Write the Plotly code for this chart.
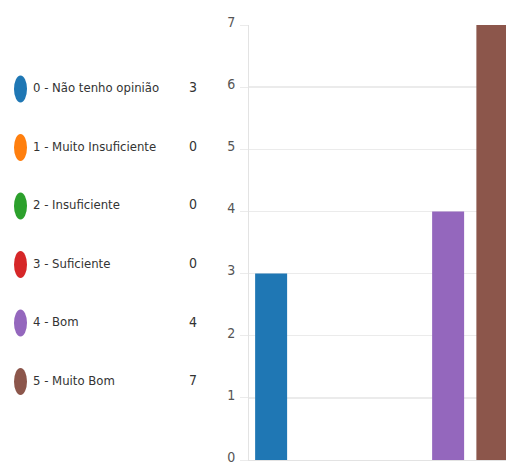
import plotly.graph_objects as go

categories = ["0 - Não tenho opinião", "1 - Muito Insuficiente", "2 - Insuficiente",
              "3 - Suficiente", "4 - Bom", "5 - Muito Bom"]
counts = [3, 0, 0, 0, 4, 7]
colors = ["#1f77b4", "#ff7f0e", "#2ca02c", "#d62728", "#9467bd", "#8c564b"]
y_ticks = [0, 1, 2, 3, 4, 5, 6, 7]

W, H = 506, 465
FONT = "DejaVu Sans Condensed, Liberation Sans Narrow, sans-serif"
idx = list(range(len(categories)))

fig = go.Figure()

fig.add_trace(go.Bar(
    x=idx, y=counts, marker=dict(color=colors, line=dict(width=0)),
    xaxis="x", yaxis="y", showlegend=False, hoverinfo="skip"))

# legend-like list on the left
fig.add_trace(go.Scatter(
    x=[33] * len(categories), y=idx, text=categories, mode="text",
    textposition="middle right", textfont=dict(family=FONT, size=13, color="#333333"),
    xaxis="x2", yaxis="y2", showlegend=False, hoverinfo="skip"))
fig.add_trace(go.Scatter(
    x=[193] * len(categories), y=idx, text=[str(c) for c in counts], mode="text",
    textposition="middle center", textfont=dict(family=FONT, size=14, color="#333333"),
    xaxis="x2", yaxis="y2", showlegend=False, hoverinfo="skip"))

shapes = []
for i, c in zip(idx, colors):
    shapes.append(dict(type="circle", xref="x2", yref="y2",
                       x0=14, x1=27, y0=i - 0.23, y1=i + 0.23,
                       fillcolor=c, line=dict(width=0)))

x_left = 249 / W
fig.update_layout(
    width=W, height=H,
    margin=dict(l=0, r=0, t=25, b=4.5, pad=0, autoexpand=False),
    paper_bgcolor="white", plot_bgcolor="white",
    bargap=0.277,
    shapes=shapes,
    xaxis=dict(domain=[x_left, 1], range=[-0.5, 5.308], showticklabels=False,
               showgrid=False, zeroline=False, showline=True, linecolor="#e3e3e3",
               linewidth=1, ticks="", fixedrange=True),
    yaxis=dict(range=[0, 7], tickvals=y_ticks, showgrid=True, gridcolor="#ebebeb",
               gridwidth=1.5, zeroline=False, showline=True, linecolor="#e3e3e3",
               linewidth=1, ticks="outside", ticklen=8, tickcolor="#ebebeb",
               tickfont=dict(family=FONT, size=14, color="#555555"), ticklabelstandoff=2,
               ticklabelshift=-3, ticklabeloverflow="allow", fixedrange=True),
    xaxis2=dict(domain=[0, x_left], range=[0, 249], visible=False, fixedrange=True),
    yaxis2=dict(domain=[0, 1], range=[6.34, -1.092], visible=False, anchor="x2",
                fixedrange=True),
)

fig.write_html("out.html", config={"displayModeBar": False, "staticPlot": True},
               post_script="document.body.style.margin='0';document.body.style.overflow='hidden';")
